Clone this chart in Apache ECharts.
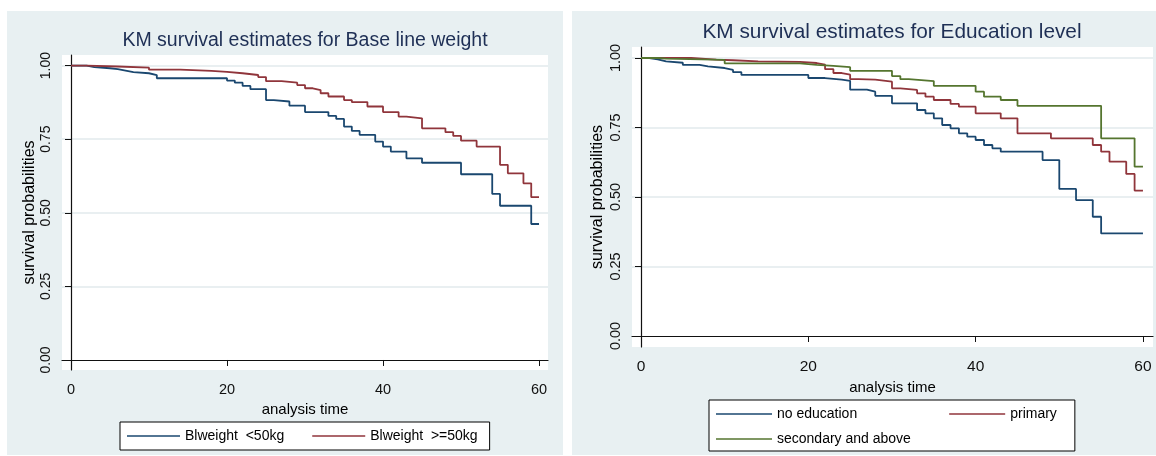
<!DOCTYPE html>
<html>
<head>
<meta charset="utf-8">
<script src="https://cdn.jsdelivr.net/npm/echarts@6/dist/echarts.min.js"></script>
<style>
  html, body { margin: 0; padding: 0; background: #fff; }
  #km { width: 1156px; height: 456px; }
</style>
</head>
<body>
<div id="km"></div>
<script>
// tick labels
const timeTicks = [0, 20, 40, 60]
const probTicks = [0, 0.25, 0.5, 0.75, 1]

// KM estimates, base line weight (time of step, survival from that time on)
const wLowTime = [0, 2, 3, 5, 6, 7, 8, 10, 11, 20, 21, 22, 23, 25, 26, 28, 30, 33, 34, 35, 36, 37, 39, 40, 41, 43, 45, 50, 54, 55, 59, 60]
const wLowSurv = [1, 0.995, 0.991, 0.988, 0.983, 0.978, 0.974, 0.968, 0.957, 0.949, 0.942, 0.931, 0.92, 0.883, 0.878, 0.864, 0.842, 0.829, 0.819, 0.793, 0.778, 0.765, 0.742, 0.725, 0.708, 0.685, 0.67, 0.631, 0.564, 0.524, 0.462, 0.462]
const wHighTime = [0, 2, 6, 10, 14, 18, 20, 22, 24, 25, 27, 29, 30, 31, 32, 33, 35, 36, 38, 40, 42, 43, 45, 48, 49, 50, 52, 55, 56, 58, 59, 60]
const wHighSurv = [1, 0.997, 0.993, 0.986, 0.982, 0.979, 0.974, 0.968, 0.961, 0.947, 0.942, 0.934, 0.923, 0.917, 0.906, 0.895, 0.883, 0.876, 0.861, 0.842, 0.827, 0.821, 0.787, 0.774, 0.761, 0.745, 0.725, 0.663, 0.634, 0.6, 0.553, 0.553]

// KM estimates, education level
const eduNoneTime = [0, 1, 2, 3, 5, 7, 8, 10, 11, 12, 20, 22, 24, 25, 27, 28, 30, 33, 34, 35, 36, 37, 38, 39, 40, 41, 42, 43, 48, 50, 52, 54, 55, 60]
const eduNoneSurv = [1, 0.995, 0.988, 0.983, 0.975, 0.97, 0.964, 0.957, 0.949, 0.939, 0.928, 0.922, 0.918, 0.886, 0.879, 0.864, 0.837, 0.813, 0.801, 0.783, 0.759, 0.747, 0.729, 0.717, 0.705, 0.687, 0.675, 0.663, 0.633, 0.529, 0.489, 0.429, 0.369, 0.369]
const eduPrimTime = [0, 6, 9, 11, 14, 19, 21, 22, 23, 24, 25, 26, 28, 30, 31, 33, 34, 35, 37, 38, 40, 43, 45, 49, 54, 55, 56, 58, 59, 60]
const eduPrimSurv = [1, 0.994, 0.992, 0.988, 0.986, 0.982, 0.976, 0.96, 0.946, 0.94, 0.924, 0.922, 0.915, 0.891, 0.885, 0.873, 0.861, 0.849, 0.835, 0.825, 0.801, 0.783, 0.729, 0.711, 0.687, 0.663, 0.627, 0.583, 0.523, 0.523]
const eduSecTime = [0, 2, 3, 10, 19, 21, 23, 25, 30, 31, 32, 35, 40, 41, 43, 45, 55, 59, 60]
const eduSecSurv = [1, 0.998, 0.993, 0.981, 0.975, 0.972, 0.967, 0.954, 0.935, 0.924, 0.917, 0.9, 0.879, 0.861, 0.849, 0.828, 0.711, 0.609, 0.609]

const navy = '#1a476f'
const maroon = '#90353b'
const green = '#55752f'
const panelBg = '#e8f0f2'
const gridColor = '#e2eaed'
const font = 'Liberation Sans, Arial, sans-serif'

function zip(t, s) {
  return t.map((v, i) => [v, s[i]])
}

function kmLine(name, color, time, surv, idx) {
  return {
    name: name,
    type: 'line',
    step: 'end',
    xAxisIndex: idx,
    yAxisIndex: idx,
    symbol: 'none',
    showSymbol: false,
    itemStyle: { color: color },
    lineStyle: { color: color, width: 1.8 },
    data: zip(time, surv),
  }
}

function xAx(idx, min, max) {
  return {
    type: 'value',
    gridIndex: idx,
    min: min,
    max: max,
    name: 'analysis time',
    nameLocation: 'middle',
    nameGap: 25,
    nameTextStyle: { color: '#000', fontFamily: font, fontSize: 15 },
    axisLine: { show: true, lineStyle: { color: '#111', width: 1.2 } },
    axisTick: { show: true, length: 6, customValues: timeTicks, lineStyle: { color: '#111' } },
    axisLabel: {
      customValues: timeTicks,
      margin: 12,
      color: '#111',
      fontFamily: font,
      fontSize: idx ? 15.5 : 14.5,
    },
    splitLine: { show: false },
  }
}

function yAx(idx, min, max, gap) {
  return {
    type: 'value',
    gridIndex: idx,
    min: min,
    max: max,
    name: 'survival probabilities',
    nameLocation: 'middle',
    nameGap: gap,
    nameTextStyle: { color: '#000', fontFamily: font, fontSize: 16 },
    axisLine: { show: true, lineStyle: { color: '#111', width: 1.2 } },
    axisTick: { show: true, length: 6, customValues: probTicks, lineStyle: { color: '#111' } },
    axisLabel: {
      customValues: probTicks,
      rotate: 90,
      margin: 9,
      color: '#111',
      fontFamily: font,
      fontSize: idx ? 14.5 : 14,
      formatter: (v) => v.toFixed(2),
    },
    splitLine: {
      show: true,
      lineStyle: { color: ['rgba(0,0,0,0)', gridColor, gridColor, gridColor, gridColor], width: 1.5 },
    },
  }
}

const myChart = echarts.init(document.getElementById('km'))
const option = {
  animation: false,
  backgroundColor: '#fff',
  graphic: [
    { type: 'rect', z: -10, shape: { x: 7, y: 11, width: 556, height: 444 }, style: { fill: panelBg } },
    { type: 'rect', z: -10, shape: { x: 572, y: 11, width: 584, height: 444 }, style: { fill: panelBg } },
  ],
  title: [
    {
      text: 'KM survival estimates for Base line weight',
      left: 305,
      top: 31,
      padding: 0,
      textAlign: 'center',
      textStyle: { color: '#1e2f55', fontFamily: font, fontWeight: 'normal', fontSize: 19.5 },
    },
    {
      text: 'KM survival estimates for Education level',
      left: 892,
      top: 22,
      padding: 0,
      textAlign: 'center',
      textStyle: { color: '#1e2f55', fontFamily: font, fontWeight: 'normal', fontSize: 20.8 },
    },
  ],
  legend: [
    {
      data: ['Blweight  <50kg', 'Blweight  >=50kg'],
      left: 120,
      top: 422,
      padding: [7, 12, 7, 7],
      icon: 'rect',
      itemWidth: 53,
      itemHeight: 1.5,
      itemGap: 28,
      backgroundColor: '#fff',
      borderColor: '#000',
      borderWidth: 1,
      borderRadius: 0,
      textStyle: { color: '#000', fontFamily: font, fontSize: 14 },
    },
    {
      data: ['no education', 'primary'],
      left: 709,
      top: 400,
      padding: [7, 18, 30, 7],
      icon: 'rect',
      itemWidth: 56,
      itemHeight: 1.5,
      itemGap: 92,
      backgroundColor: '#fff',
      borderColor: '#000',
      borderWidth: 1,
      borderRadius: 0,
      textStyle: { color: '#000', fontFamily: font, fontSize: 14 },
    },
    {
      data: ['secondary and above'],
      left: 709,
      top: 432,
      padding: [0, 0, 0, 7],
      icon: 'rect',
      itemWidth: 56,
      itemHeight: 1.5,
      textStyle: { color: '#000', fontFamily: font, fontSize: 14 },
    },
  ],
  grid: [
    { left: 62, top: 55, width: 486, height: 315, show: true, backgroundColor: '#fff', borderWidth: 0 },
    { left: 632, top: 47, width: 521, height: 300, show: true, backgroundColor: '#fff', borderWidth: 0 },
  ],
  xAxis: [xAx(0, -1.154, 61.15), xAx(1, -1.076, 61.2)],
  yAxis: [yAx(0, -0.034, 1.036, 24), yAx(1, -0.0396, 1.0396, 26)],
  series: [
    kmLine('Blweight  <50kg', navy, wLowTime, wLowSurv, 0),
    kmLine('Blweight  >=50kg', maroon, wHighTime, wHighSurv, 0),
    kmLine('no education', navy, eduNoneTime, eduNoneSurv, 1),
    kmLine('primary', maroon, eduPrimTime, eduPrimSurv, 1),
    kmLine('secondary and above', green, eduSecTime, eduSecSurv, 1),
  ],
}
myChart.setOption(option)
</script>
</body>
</html>
